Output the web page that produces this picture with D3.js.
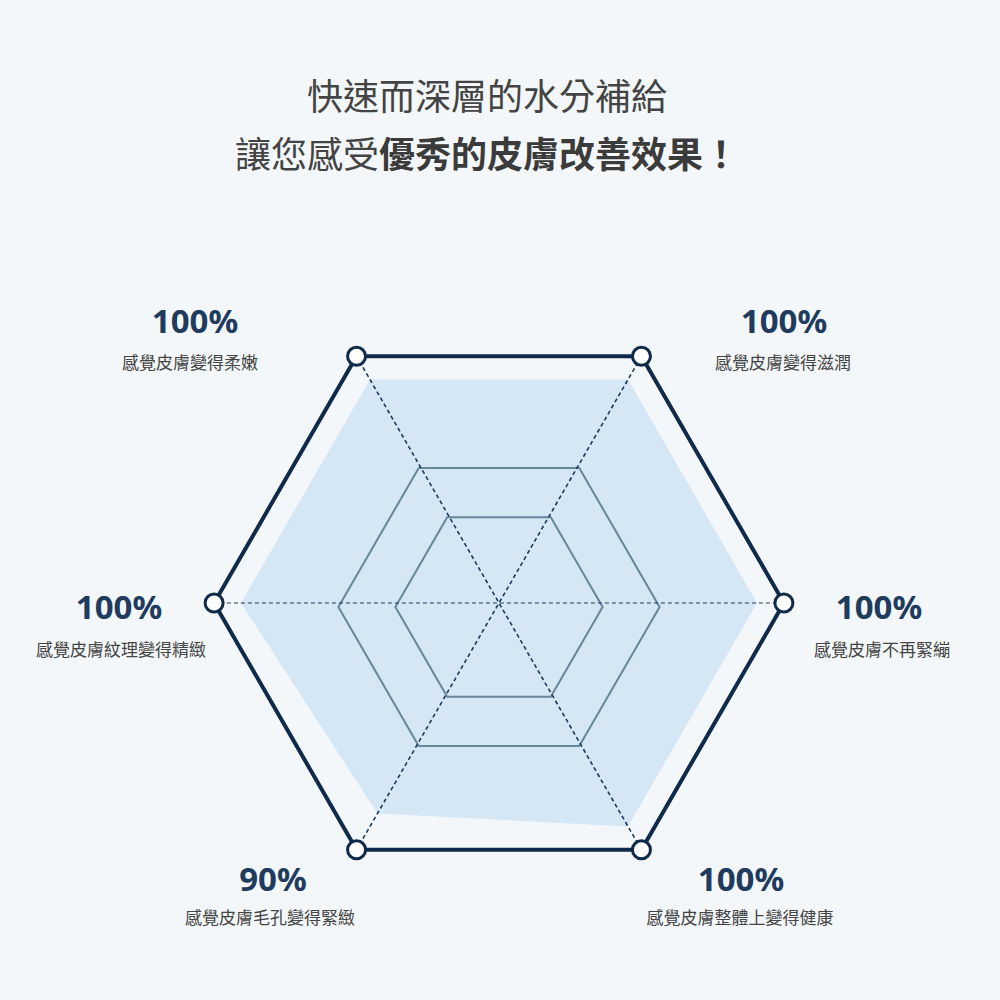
<!DOCTYPE html>
<html><head><meta charset="utf-8">
<script src="https://cdn.jsdelivr.net/npm/d3@7"></script>
<style>html,body{margin:0;padding:0;background:#f3f7f9}svg{display:block}</style>
</head><body>
<svg id="chart" width="1000" height="1000"></svg>
<script>
// ---- data ----
const categories = ["感覺皮膚變得滋潤","感覺皮膚不再緊繃","感覺皮膚整體上變得健康","感覺皮膚毛孔變得緊緻","感覺皮膚紋理變得精緻","感覺皮膚變得柔嫩"];
const values = [100,100,100,90,100,100];
const valueLabels = ["100%","100%","100%","90%","100%","100%"];
const gridLevels = [40, 62];      // inner grid rings (scale units)
const frameLevel = 110;           // outer frame ring (scale units)
const titleLine1 = "快速而深層的水分補給";
const titleLine2Normal = "讓您感受";
const titleLine2Bold = "優秀的皮膚改善效果！";

// ---- layout ----
const svg = d3.select("#chart");
const cx = 499, cy = 603;
const gridDy = 4;
const angles = [-60, 0, 60, 120, 180, 240].map(a => a * Math.PI / 180);
const rGrid = d3.scaleLinear().domain([0, 100]).range([0, 259]);
const rData = d3.scaleLinear().domain([0, 100]).range([108, 258]);
const navy = "#0f2a4a";

svg.append("rect").attr("width",1000).attr("height",1000).attr("fill","#f3f7f9");

// title
const title = svg.append("text").attr("x", 487).attr("text-anchor","middle")
  .attr("font-family","'Noto Sans CJK TC','Noto Sans CJK SC',sans-serif").attr("fill","#3b3b3b").attr("font-size",36);
title.append("tspan").attr("x",487).attr("y",110).attr("font-weight",400).attr("fill","#444").text(titleLine1);
const l2 = title.append("tspan").attr("x",487).attr("y",168);
l2.append("tspan").attr("font-weight",400).attr("fill","#444").text(titleLine2Normal);
l2.append("tspan").attr("font-weight",700).text(titleLine2Bold);

const pt = (a, r, dy=0) => [cx + r*Math.cos(a), cy + dy + r*Math.sin(a)];

// data fill
const line = d3.line().curve(d3.curveLinearClosed);
svg.append("path")
  .attr("d", line(values.map((v,i)=>pt(angles[i], rData(v)))))
  .attr("fill", "#d5e6f5");

// grid rings
svg.selectAll("path.grid").data(gridLevels).join("path").attr("class","grid")
  .attr("d", lv => line(angles.map(a => pt(a, rGrid(lv), gridDy))))
  .attr("fill","none").attr("stroke","#66869a").attr("stroke-width",2);

// spokes
svg.selectAll("line.spoke").data(angles.slice(0,3)).join("line").attr("class","spoke")
  .attr("x1", a => pt(a, rGrid(frameLevel))[0]).attr("y1", a => pt(a, rGrid(frameLevel))[1])
  .attr("x2", a => pt(a+Math.PI, rGrid(frameLevel))[0]).attr("y2", a => pt(a+Math.PI, rGrid(frameLevel))[1])
  .attr("stroke", "#1d3a5c").attr("stroke-width", (a,i)=> i===1 ? 1.2 : 1.6)
  .attr("stroke-dasharray","4,3");

// outer frame
svg.append("path")
  .attr("d", line(angles.map(a => pt(a, rGrid(frameLevel)))))
  .attr("fill","none").attr("stroke",navy).attr("stroke-width",4).attr("stroke-linejoin","miter");

svg.selectAll("circle.vtx").data(angles).join("circle").attr("class","vtx")
  .attr("cx", a => pt(a, rGrid(frameLevel))[0]).attr("cy", a => pt(a, rGrid(frameLevel))[1])
  .attr("r", 9).attr("fill","#ffffff").attr("stroke",navy).attr("stroke-width",3);

// labels
const labelX = [[784,783],[879,882],[741,740],[273,270],[119,121],[195,190]];
const labelY = [[333,369],[619,656],[891,924],[891,924],[619,656],[333,369]];
const lg = svg.selectAll("g.lab").data(categories).join("g").attr("class","lab");
lg.append("text").attr("x",(d,i)=>labelX[i][0]).attr("y",(d,i)=>labelY[i][0])
  .attr("text-anchor","middle").attr("font-family","'Noto Sans',sans-serif").attr("font-weight",700)
  .attr("font-size",33).attr("fill","#1f3b5e").text((d,i)=>valueLabels[i]);
lg.append("text").attr("x",(d,i)=>labelX[i][1]).attr("y",(d,i)=>labelY[i][1])
  .attr("text-anchor","middle").attr("font-family","'Noto Sans CJK TC','Noto Sans CJK SC',sans-serif")
  .attr("font-size",17).attr("fill","#444").text(d=>d);
</script>
</body></html>
